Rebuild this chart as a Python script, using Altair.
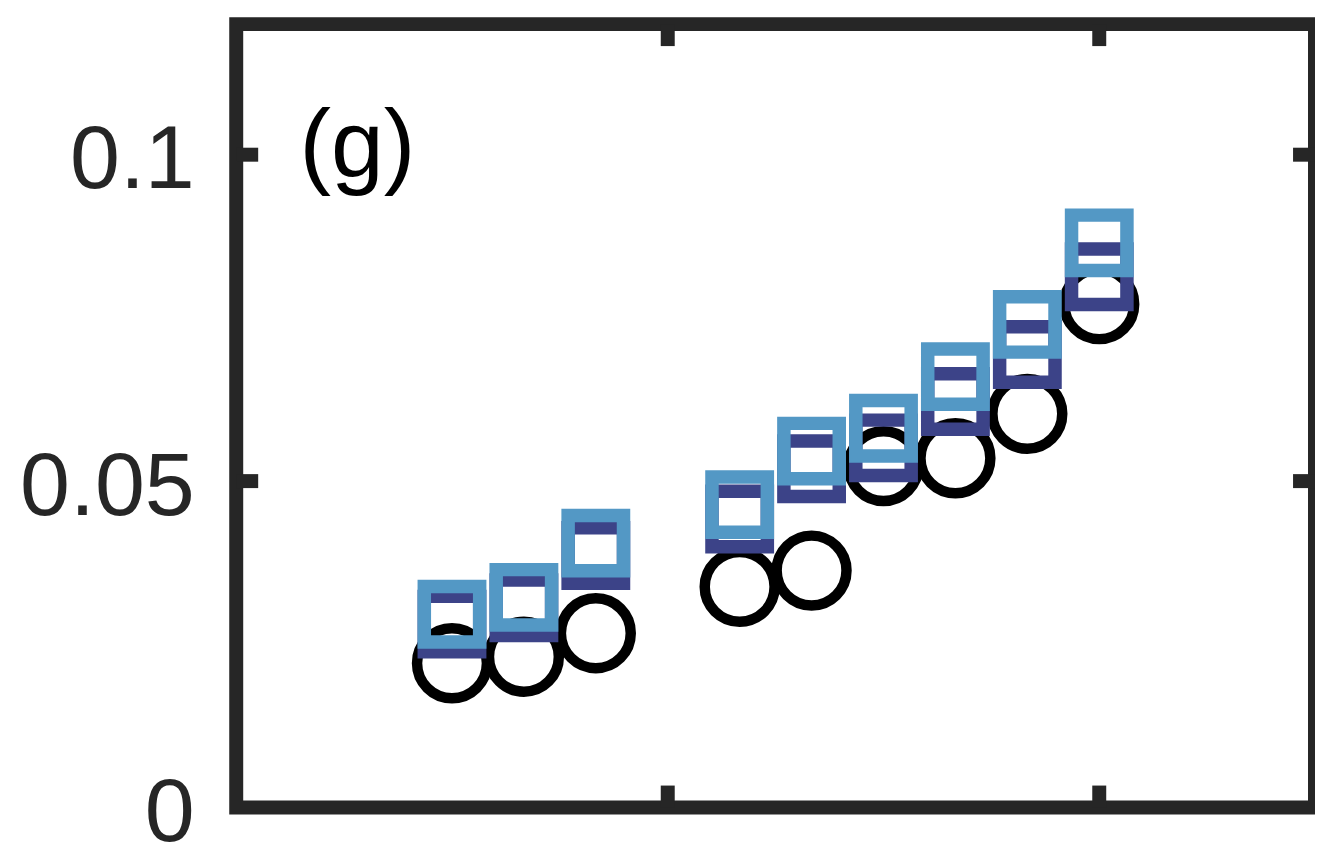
import altair as alt
import pandas as pd

# ---- data ----
x_vals = [3, 4, 5, 7, 8, 9, 10, 11, 12]
circle_vals = [0.0221, 0.0231, 0.0267, 0.0338, 0.0363, 0.0523, 0.0535, 0.0603, 0.0771]
dark_vals = [0.0281, 0.0306, 0.0386, 0.0442, 0.0519, 0.0551, 0.0622, 0.0694, 0.0813]
light_vals = [0.0296, 0.0322, 0.0405, 0.0464, 0.0546, 0.0581, 0.0660, 0.0740, 0.0865]

x_domain = [0, 15]
y_domain = [0, 0.12]
x_ticks = [6, 12]
y_ticks = [0.05, 0.1]
y_label_values = [0, 0.05, 0.1]
panel_label = "(g)"

# ---- styling ----
W, H = 1081, 785
FRAME = "#262626"
LIGHT = "#5398c5"
DARK = "#3c4388"
FONT = "Liberation Sans"
TICK_PX = 22
tx = TICK_PX / W * (x_domain[1] - x_domain[0])
ty = TICK_PX / H * (y_domain[1] - y_domain[0])

xscale = alt.Scale(domain=x_domain, nice=False, zero=False)
yscale = alt.Scale(domain=y_domain, nice=False, zero=False)
yaxis = alt.Axis(values=y_label_values, format=".2~f", grid=False, domain=False,
                 ticks=False, labelFontSize=90, labelFont=FONT, labelColor=FRAME,
                 labelPadding=42, labelOffset=6, title=None)

def X(field="x"):
    return alt.X(f"{field}:Q", scale=xscale, axis=None)

def Y(field="y"):
    return alt.Y(f"{field}:Q", scale=yscale, axis=yaxis)

circ_df = pd.DataFrame({"x": x_vals, "y": circle_vals})
dark_df = pd.DataFrame({"x": x_vals, "y": dark_vals})
light_df = pd.DataFrame({"x": x_vals, "y": light_vals})

# inward ticks (bottom/top and left/right), mirrored as in a boxed axes
vt_rows = []
for t in x_ticks:
    vt_rows.append({"x": t, "y": y_domain[0], "y2": y_domain[0] + ty})
    vt_rows.append({"x": t, "y": y_domain[1], "y2": y_domain[1] - ty})
ht_rows = []
for t in y_ticks:
    ht_rows.append({"y": t, "x": x_domain[0], "x2": x_domain[0] + tx})
    ht_rows.append({"y": t, "x": x_domain[1], "x2": x_domain[1] - tx})
vt_df = pd.DataFrame(vt_rows)
ht_df = pd.DataFrame(ht_rows)

label_df = pd.DataFrame({"x": [0.88], "y": [0.0967], "t": [panel_label]})

circles = alt.Chart(circ_df).mark_point(
    shape="circle", filled=False, size=4900, strokeWidth=10.5, color="black", opacity=1
).encode(x=X(), y=Y())

darks = alt.Chart(dark_df).mark_point(
    shape="square", filled=False, size=3080, strokeWidth=13.5, color=DARK, opacity=1
).encode(x=X(), y=Y())

lights = alt.Chart(light_df).mark_point(
    shape="square", filled=False, size=3080, strokeWidth=13.5, color=LIGHT, opacity=1
).encode(x=X(), y=Y())

vticks = alt.Chart(vt_df).mark_rule(color=FRAME, strokeWidth=14).encode(
    x=X(), y=Y(), y2="y2:Q")
hticks = alt.Chart(ht_df).mark_rule(color=FRAME, strokeWidth=14).encode(
    x=X(), x2="x2:Q", y=Y())

label = alt.Chart(label_df).mark_text(
    align="left", baseline="alphabetic", fontSize=95, font=FONT, color="black"
).encode(x=X(), y=Y(), text="t:N")

chart = alt.layer(circles, darks, lights, vticks, hticks, label).properties(
    width=W, height=H,
    autosize=alt.AutoSizeParams(type="none"),
    padding={"left": 228.7, "top": 15.3, "right": 0, "bottom": 42},
).configure_view(stroke=FRAME, strokeWidth=14)

chart.save("out.html", embed_options={"renderer": "svg", "actions": False})
